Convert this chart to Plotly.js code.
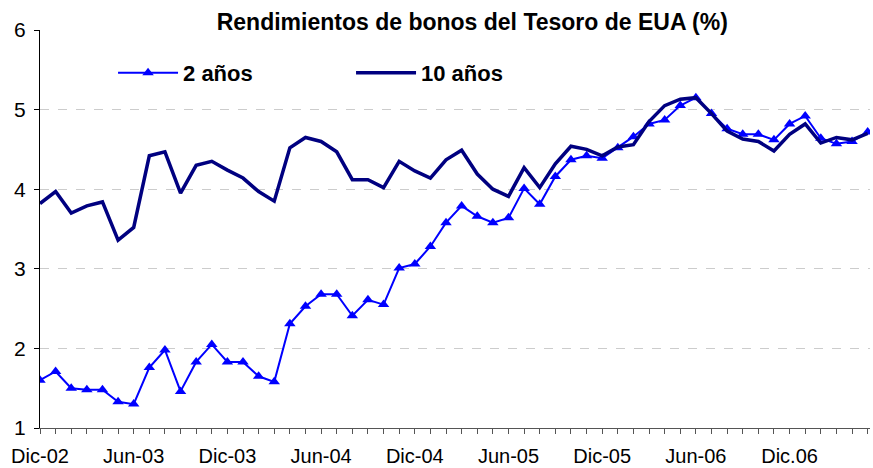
<!DOCTYPE html>
<html>
<head>
<meta charset="utf-8">
<script src="https://cdn.plot.ly/plotly-3.0.1.min.js"></script>
<style>html,body{margin:0;padding:0;background:#fff}#chart{width:873px;height:468px}</style>
</head>
<body>
<div id="chart"></div>
<script>
const months = [
 "Dic-02","Ene-03","Feb-03","Mar-03","Abr-03","May-03","Jun-03","Jul-03","Ago-03","Sep-03","Oct-03","Nov-03",
 "Dic-03","Ene-04","Feb-04","Mar-04","Abr-04","May-04","Jun-04","Jul-04","Ago-04","Sep-04","Oct-04","Nov-04",
 "Dic-04","Ene-05","Feb-05","Mar-05","Abr-05","May-05","Jun-05","Jul-05","Ago-05","Sep-05","Oct-05","Nov-05",
 "Dic-05","Ene-06","Feb-06","Mar-06","Abr-06","May-06","Jun-06","Jul-06","Ago-06","Sep-06","Oct-06","Nov-06",
 "Dic-06","Ene-07","Feb-07","Mar-07","Abr-07","May-07"
];
const tickLabels = {"Dic-02":"Dic-02","Jun-03":"Jun-03","Dic-03":"Dic-03","Jun-04":"Jun-04","Dic-04":"Dic-04",
 "Jun-05":"Jun-05","Dic-05":"Dic-05","Jun-06":"Jun-06","Dic-06":"Dic.06"};
const twoYear = [
 1.60,1.71,1.50,1.48,1.48,1.33,1.30,1.76,1.98,1.46,1.83,2.05,
 1.83,1.83,1.65,1.58,2.31,2.53,2.68,2.68,2.41,2.61,2.55,3.01,
 3.06,3.28,3.58,3.79,3.66,3.58,3.64,4.01,3.81,4.16,4.37,4.42,
 4.39,4.52,4.66,4.82,4.87,5.05,5.15,4.95,4.76,4.69,4.69,4.62,
 4.82,4.92,4.64,4.57,4.60,4.72
];
const tenYear = [
 3.82,3.97,3.70,3.79,3.84,3.36,3.52,4.42,4.47,3.95,4.30,4.35,
 4.24,4.14,3.97,3.85,4.52,4.65,4.60,4.47,4.12,4.12,4.02,4.35,
 4.23,4.14,4.37,4.49,4.19,4.00,3.91,4.27,4.02,4.32,4.54,4.50,
 4.42,4.53,4.56,4.85,5.05,5.13,5.15,4.95,4.73,4.63,4.60,4.48,
 4.69,4.82,4.58,4.65,4.62,4.70
];
const seriesNames = ["2 años","10 años"];
const yTicks = [1,2,3,4,5,6];

const traces = [
 {x: months, y: twoYear, name: seriesNames[0], type: "scatter", mode: "lines+markers",
  line: {color: "#0000FF", width: 2}, marker: {symbol: "triangle-up", size: 10, color: "#0000FF"}},
 {x: months, y: tenYear, name: seriesNames[1], type: "scatter", mode: "lines",
  line: {color: "#000080", width: 3.5}}
];

const layout = {
 width: 873, height: 468,
 margin: {l: 40, r: 3, t: 30, b: 40},
 paper_bgcolor: "#fff", plot_bgcolor: "#fff",
 font: {family: "Liberation Sans, Arial, sans-serif", color: "#000", size: 20},
 title: {text: "<b>Rendimientos de bonos del Tesoro de EUA (%)</b>", x: 0.541, xanchor: "center",
  y: 0.953, yanchor: "middle", font: {size: 23, color: "#000"}},
 showlegend: true,
 legend: {orientation: "h", x: 0.088, y: 0.892, xanchor: "left", yanchor: "middle",
  font: {size: 22, color: "#000", weight: "bold"}, bgcolor: "rgba(0,0,0,0)", entrywidth: 163, itemwidth: 60},
 xaxis: {type: "category", range: [0, 53.15], tickmode: "array", tickvals: months,
  ticktext: months.map(m => tickLabels[m] || ""), ticks: "outside", ticklen: 5, tickcolor: "#555",
  showline: true, linecolor: "#555", linewidth: 1, showgrid: false, zeroline: false,
  tickfont: {size: 20}, tickangle: 0, ticklabelstandoff: 5, fixedrange: true},
 yaxis: {range: [1, 6], tickvals: yTicks, ticks: "outside", ticklen: 5, tickcolor: "#000",
  showline: true, linecolor: "#000", linewidth: 1, showgrid: true, gridcolor: "#cccccc",
  griddash: "dash", gridwidth: 1, zeroline: false, tickfont: {size: 21}, ticklabelstandoff: 4, fixedrange: true}
};

Plotly.newPlot("chart", traces, layout, {displayModeBar: false, staticPlot: true});
</script>
</body>
</html>
